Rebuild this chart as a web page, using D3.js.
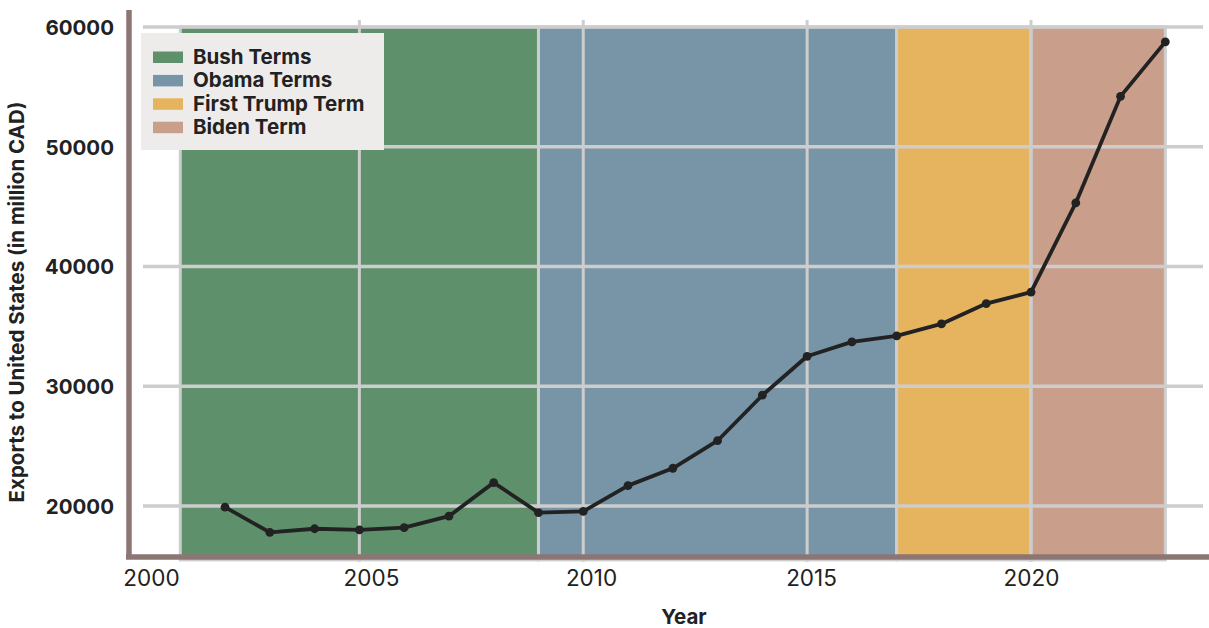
<!DOCTYPE html>
<html>
<head>
<meta charset="utf-8">
<script src="https://cdn.jsdelivr.net/npm/d3@7"></script>
<style>
  html, body { margin: 0; padding: 0; background: #ffffff; }
  svg { display: block; }
  text { font-family: Inter, "Liberation Sans", sans-serif; fill: #222222; }
</style>
</head>
<body>
<svg id="chart" width="1209" height="628"></svg>
<script>
// ---- data ----
const years = [2002, 2003, 2004, 2005, 2006, 2007, 2008, 2009, 2010, 2011, 2012,
               2013, 2014, 2015, 2016, 2017, 2018, 2019, 2020, 2021, 2022, 2023];
const exportsUS = [19900, 17800, 18100, 18000, 18200, 19150, 21950, 19450, 19550, 21700, 23150,
                   25450, 29250, 32500, 33700, 34200, 35200, 36900, 37850, 45300, 54200, 58750];
const termNames = ["Bush Terms", "Obama Terms", "First Trump Term", "Biden Term"];
const termStarts = [2001, 2009, 2017, 2020];
const termEnds = [2009, 2017, 2020, 2023];
const termColors = ["#5e916b", "#7795a7", "#e6b45f", "#c99e8a"];
const xTicks = [2000, 2005, 2010, 2015, 2020];
const yTicks = [20000, 30000, 40000, 50000, 60000];

// ---- layout ----
const svg = d3.select("#chart");
const x = d3.scaleLinear().domain([2000, 2020]).range([135.5, 1031]);
const xLabel = d3.scaleLinear().domain([2000, 2020]).range([151, 1031]);
const y = d3.scaleLinear().domain([15500, 60000]).range([559.9, 26.9]);
const gridLeft = 143, gridRight = 1203, gridTop = 20, gridBottom = 562;
const gridColor = "#cdcdcd";

// term shading
svg.append("g").selectAll("rect")
  .data(termNames)
  .join("rect")
  .attr("x", (d, i) => x(termStarts[i]))
  .attr("width", (d, i) => x(termEnds[i]) - x(termStarts[i]))
  .attr("y", y(60000))
  .attr("height", y(15500) - y(60000))
  .attr("fill", (d, i) => termColors[i])
  .attr("stroke", gridColor)
  .attr("stroke-width", 3);

// horizontal grid
svg.append("g").selectAll("line")
  .data(yTicks)
  .join("line")
  .attr("x1", gridLeft).attr("x2", gridRight)
  .attr("y1", d => y(d)).attr("y2", d => y(d))
  .attr("stroke", gridColor).attr("stroke-width", 3.5);

// vertical grid (clipped to plot area)
svg.append("g").selectAll("line")
  .data(xTicks.filter(d => x(d) > gridLeft))
  .join("line")
  .attr("x1", d => x(d)).attr("x2", d => x(d))
  .attr("y1", gridTop).attr("y2", gridBottom)
  .attr("stroke", gridColor).attr("stroke-width", 3);

// line + markers
const line = d3.line().x((d, i) => x(years[i])).y(d => y(d));
svg.append("path")
  .datum(exportsUS)
  .attr("d", line)
  .attr("fill", "none")
  .attr("stroke", "#222222")
  .attr("stroke-width", 3.8)
  .attr("stroke-linejoin", "round");
svg.append("g").selectAll("circle")
  .data(exportsUS)
  .join("circle")
  .attr("cx", (d, i) => x(years[i]))
  .attr("cy", d => y(d))
  .attr("r", 4.4)
  .attr("fill", "#222222");

// spines
const spineColor = "#8c7674";
svg.append("line")
  .attr("x1", 129).attr("x2", 129).attr("y1", 10).attr("y2", 557)
  .attr("stroke", spineColor).attr("stroke-width", 5.5);
svg.append("line")
  .attr("x1", 126).attr("x2", 1209).attr("y1", 557).attr("y2", 557)
  .attr("stroke", spineColor).attr("stroke-width", 5.5);

// x axis labels
const xAxis = d3.axisBottom(xLabel).tickValues(xTicks).tickFormat(d3.format("d")).tickSize(0);
const gx = svg.append("g").attr("transform", "translate(0,568)").call(xAxis);
gx.select(".domain").remove();
gx.selectAll("text")
  .attr("dy", 0).attr("y", 18)
  .style("font-size", "22.5px").style("font-weight", 400)
  .style("font-family", "Inter, 'Liberation Sans', sans-serif")
  .attr("fill", "#222222");

// y axis labels
const yAxis = d3.axisLeft(y).tickValues(yTicks).tickFormat(d3.format("d")).tickSize(0);
const gy = svg.append("g").attr("transform", "translate(114,0)").call(yAxis);
gy.select(".domain").remove();
gy.selectAll("text")
  .attr("x", 0).attr("dy", "0.36em")
  .style("font-size", "20.5px").style("font-weight", 700)
  .style("font-family", "Inter, 'Liberation Sans', sans-serif")
  .attr("fill", "#222222");

// axis titles
svg.append("text")
  .attr("x", 684).attr("y", 624)
  .attr("text-anchor", "middle")
  .style("font-size", "20.5px").style("font-weight", 700)
  .text("Year");
svg.append("text")
  .attr("transform", "translate(24,302) rotate(-90)")
  .attr("text-anchor", "middle")
  .style("font-size", "20.5px").style("font-weight", 700)
  .text("Exports to United States (in million CAD)");

// legend
const lg = svg.append("g");
lg.append("rect")
  .attr("x", 141).attr("y", 33).attr("width", 243).attr("height", 117)
  .attr("fill", "#eeeceb");
const rows = lg.selectAll("g.row").data(termNames).join("g")
  .attr("class", "row")
  .attr("transform", (d, i) => `translate(153,${51.5 + i * 23.4})`);
rows.append("rect")
  .attr("width", 30).attr("height", 11.5)
  .attr("fill", (d, i) => termColors[i]);
rows.append("text")
  .attr("x", 40).attr("y", 12.5)
  .style("font-size", "20.5px").style("font-weight", 700)
  .text(d => d);
</script>
</body>
</html>
